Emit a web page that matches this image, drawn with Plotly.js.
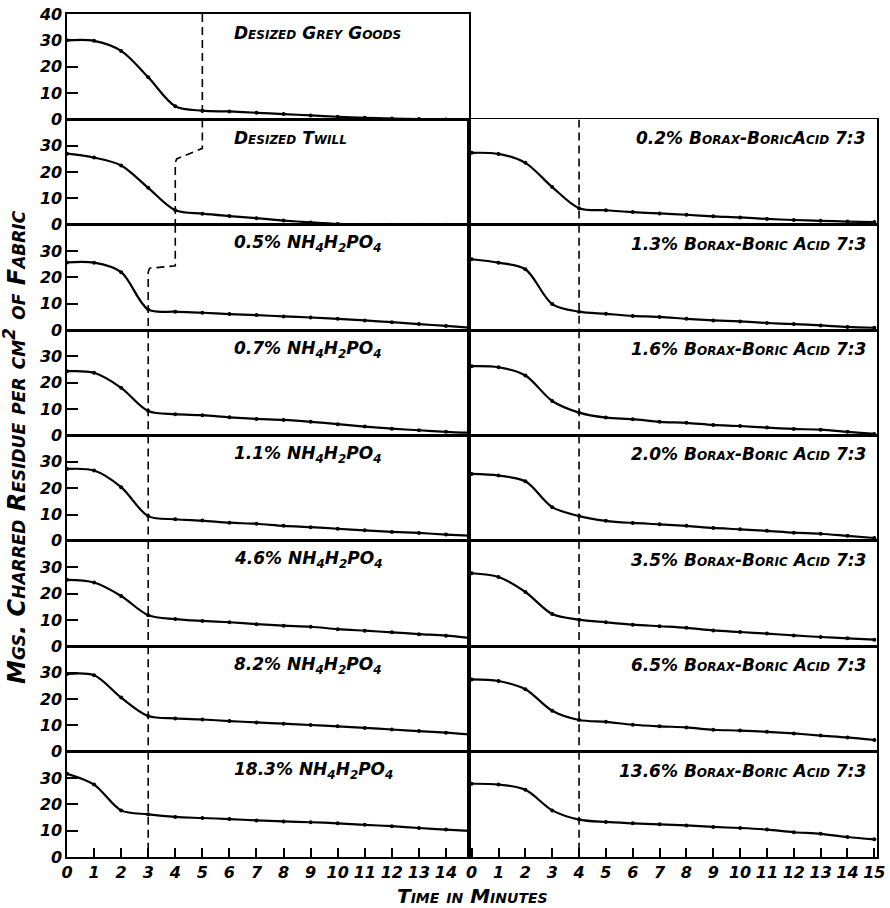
<!DOCTYPE html>
<html><head><meta charset="utf-8">
<script src="https://cdn.plot.ly/plotly-3.0.1.min.js"></script>
<style>body{margin:0;background:#fff}#chart{width:890px;height:908px}</style>
</head><body><div id="chart"></div>
<script>
// ---- data ----
const minutes = [0,1,2,3,4,5,6,7,8,9,10,11,12,13,14,15];

const leftLabels = [
  "Desized Grey Goods",
  "Desized Twill",
  "0.5% NH<sub>4</sub>H<sub>2</sub>PO<sub>4</sub>",
  "0.7% NH<sub>4</sub>H<sub>2</sub>PO<sub>4</sub>",
  "1.1% NH<sub>4</sub>H<sub>2</sub>PO<sub>4</sub>",
  "4.6% NH<sub>4</sub>H<sub>2</sub>PO<sub>4</sub>",
  "8.2% NH<sub>4</sub>H<sub>2</sub>PO<sub>4</sub>",
  "18.3% NH<sub>4</sub>H<sub>2</sub>PO<sub>4</sub>"
];
const greyGoods = [30, 29.8, 26, 16, 5, 3.3, 3, 2.5, 2, 1.5, 1, 0.6, 0.3, 0.1, 0, 0];
const twill     = [27, 25.5, 22.5, 14, 5.5, 4.2, 3.3, 2.5, 1.6, 0.9, 0.3, 0, 0, 0, 0, 0];
const nh05      = [25.7, 25.6, 22, 7.8, 7.0, 6.6, 6.1, 5.7, 5.2, 4.8, 4.3, 3.7, 3.0, 2.3, 1.6, 0.8];
const nh07      = [24.4, 23.8, 18.1, 9.3, 8.1, 7.7, 6.9, 6.3, 5.9, 5.2, 4.3, 3.4, 2.6, 2.0, 1.4, 1.0];
const nh11      = [27.3, 26.7, 20.4, 9.4, 8.2, 7.7, 6.9, 6.5, 5.7, 5.2, 4.6, 4.0, 3.4, 3.0, 2.4, 1.9];
const nh46      = [25.2, 24.2, 19.1, 11.8, 10.3, 9.6, 9.1, 8.4, 7.8, 7.4, 6.5, 5.9, 5.3, 4.6, 4.0, 3.0];
const nh82      = [29.5, 29.0, 20.5, 13.5, 12.6, 12.2, 11.6, 11.1, 10.6, 10.1, 9.6, 9.0, 8.4, 7.8, 7.2, 6.4];
const nh183     = [31.6, 27.5, 17.7, 16.2, 15.2, 14.8, 14.4, 13.9, 13.5, 13.2, 12.8, 12.2, 11.7, 11.0, 10.4, 9.8];
const leftSeries = [greyGoods, twill, nh05, nh07, nh11, nh46, nh82, nh183];

const rightLabels = [
  "0.2% Borax-BoricAcid 7:3",
  "1.3% Borax-Boric Acid 7:3",
  "1.6% Borax-Boric Acid 7:3",
  "2.0% Borax-Boric Acid 7:3",
  "3.5% Borax-Boric Acid 7:3",
  "6.5% Borax-Boric Acid 7:3",
  "13.6% Borax-Boric Acid 7:3"
];
const bx02  = [27.3, 26.9, 23.5, 14.3, 6.3, 5.5, 4.8, 4.3, 3.8, 3.2, 2.8, 2.2, 1.8, 1.5, 1.2, 1.0];
const bx13  = [26.9, 25.6, 23.1, 9.9, 7.0, 6.2, 5.4, 5.0, 4.3, 3.7, 3.3, 2.7, 2.3, 1.8, 1.2, 0.9];
const bx16  = [26.3, 25.9, 22.8, 13.1, 8.7, 6.8, 6.2, 5.2, 4.8, 4.0, 3.6, 3.0, 2.5, 2.2, 1.4, 0.6];
const bx20  = [25.4, 24.8, 22.6, 12.8, 9.4, 7.6, 6.8, 6.3, 5.7, 4.9, 4.4, 3.8, 3.1, 2.7, 1.9, 1.1];
const bx35  = [27.7, 26.3, 20.6, 12.2, 10.1, 9.1, 8.2, 7.6, 7.0, 6.0, 5.4, 4.8, 4.1, 3.5, 3.0, 2.5];
const bx65  = [27.4, 26.8, 23.7, 15.5, 12.0, 11.3, 10.2, 9.6, 9.2, 8.3, 8.0, 7.5, 6.9, 6.1, 5.4, 4.4];
const bx136 = [27.8, 27.5, 25.5, 17.7, 14.2, 13.3, 12.8, 12.4, 12.0, 11.4, 11.0, 10.4, 9.4, 8.8, 7.6, 6.7];
const rightSeries = [bx02, bx13, bx16, bx20, bx35, bx65, bx136];

// dashed boundary (minutes, mg) per panel
const dashLeftX = [[5,5],[5,5,4.05,4,4],[4,4,3.05,3,3],[3,3],[3,3],[3,3],[3,3],[3,3]];
const dashLeftY = [[40,0],[40,29,25,23.5,0],[40,24.4,23.5,22,0],[40,0],[40,0],[40,0],[40,0],[40,0]];
const dashRightX = [4,4];
const dashRightY = [40,0];

const leftTicks = [0,1,2,3,4,5,6,7,8,9,10,11,12,13,14];
const rightTicks = [0,1,2,3,4,5,6,7,8,9,10,11,12,13,14,15];

// ---- build ----
const FONT = "DejaVu Sans";
const ROWS = 8;
const splitX = 402/810;
const traces = [];
const tickFont = {family: FONT, size: 16, style: "italic", weight: "bold", color: "#000"};
const layout = {
  width: 890, height: 908,
  margin: {l: 67, r: 13, t: 14, b: 51},
  paper_bgcolor: "#fff", plot_bgcolor: "rgba(0,0,0,0)",
  showlegend: false,
  font: {family: FONT, color: "#000"},
  annotations: [],
  shapes: []
};

function axName(n){ return n === 1 ? "" : String(n); }

function addPanel(n, row, isLeft, series, label, dx, dy){
  const xa = "x" + axName(n), ya = "y" + axName(n);
  const bottom = row === ROWS - 1;
  const dom = [1 - (row + 1)/ROWS, 1 - row/ROWS];
  layout["xaxis" + axName(n)] = {
    domain: isLeft ? [0, splitX] : [splitX, 1],
    range: isLeft ? [0, 14.85] : [-0.1, 15.1],
    showline: true, mirror: true, linewidth: 1.6, linecolor: "#000",
    showgrid: false, zeroline: false, fixedrange: true,
    anchor: ya,
    tickvals: isLeft ? leftTicks : rightTicks,
    ticks: bottom ? "inside" : "", ticklen: 9, tickwidth: 2, tickcolor: "#000",
    showticklabels: bottom,
    tickfont: tickFont
  };
  layout["yaxis" + axName(n)] = {
    domain: dom, range: [0, 40],
    showline: true, mirror: true, linewidth: 1.6, linecolor: "#000",
    showgrid: false, zeroline: false, fixedrange: true,
    anchor: xa,
    tickvals: row === 0 ? [0,10,20,30,40] : [0,10,20,30],
    ticks: isLeft ? "inside" : "", ticklen: 11, tickwidth: 2, tickcolor: "#000",
    showticklabels: isLeft,
    tickfont: tickFont
  };
  traces.push({
    x: minutes, y: series, xaxis: xa, yaxis: ya, type: "scatter",
    mode: "lines+markers", line: {color: "#000", width: 2.2, shape: "spline", smoothing: 0.9},
    marker: {color: "#000", size: 4}, hoverinfo: "skip"
  });
  traces.push({
    x: dx, y: dy, xaxis: xa, yaxis: ya, type: "scatter", mode: "lines",
    line: {color: "#000", width: 1.6, dash: "8px,5px"}, hoverinfo: "skip"
  });
  layout.annotations.push({
    xref: xa + " domain", yref: ya + " domain",
    x: isLeft ? 0.41 : 0.978, xanchor: isLeft ? "left" : "right",
    y: 0.82, yanchor: "middle", showarrow: false, text: label,
    font: {family: FONT, size: 17, style: "italic", weight: "bold", variant: "small-caps", color: "#000"}
  });
}

let n = 1;
for (let r = 0; r < ROWS; r++) {
  addPanel(n, r, true, leftSeries[r], leftLabels[r], dashLeftX[r], dashLeftY[r]);
  n++;
}
for (let r = 1; r < ROWS; r++) {
  addPanel(n, r, false, rightSeries[r-1], rightLabels[r-1], dashRightX, dashRightY);
  n++;
}

layout.annotations.push({
  xref: "paper", yref: "paper", x: -52/810, y: 1 - (447-14)/843,
  xanchor: "center", yanchor: "middle", textangle: -90, showarrow: false,
  text: "Mgs. Charred Residue per cm<sup>2</sup> of Fabric",
  font: {family: FONT, size: 24, style: "italic", weight: "bold", variant: "small-caps", color: "#000"}
});
layout.annotations.push({
  xref: "paper", yref: "paper", x: 405/810, y: -(896-857)/843,
  xanchor: "center", yanchor: "middle", showarrow: false,
  text: "Time in Minutes",
  font: {family: FONT, size: 20, style: "italic", weight: "bold", variant: "small-caps", color: "#000"}
});

Plotly.newPlot("chart", traces, layout, {staticPlot: true, displayModeBar: false});
</script>
</body></html>
